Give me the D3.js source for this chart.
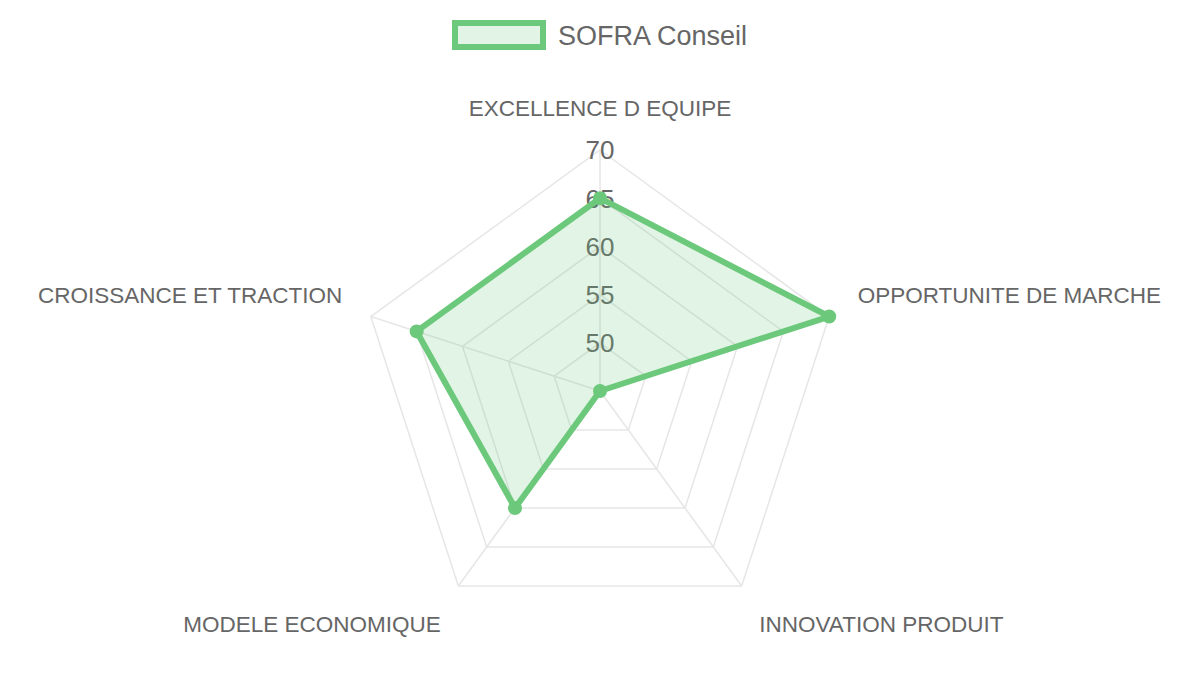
<!DOCTYPE html>
<html>
<head>
<meta charset="utf-8">
<script src="https://cdn.jsdelivr.net/npm/d3@7"></script>
<style>
  body { margin: 0; background: #fff; }
  svg { display: block; font-family: "Liberation Sans", Arial, sans-serif; }
</style>
</head>
<body>
<div class="canvas"></div>
<script>
const labels = ['EXCELLENCE D EQUIPE', 'OPPORTUNITE DE MARCHE', 'INNOVATION PRODUIT', 'MODELE ECONOMIQUE', 'CROISSANCE ET TRACTION'];
const seriesName = 'SOFRA Conseil';
const values = [65, 70, 45, 60, 65];
const tickValues = [50, 55, 60, 65, 70];
const scaleMin = 45;
const scaleMax = 70;

const dimensions = { width: 1200, height: 675, radius: 241 };
const center = { x: 600, y: 391 };
const green = '#6cc97b';

const svg = d3
  .select('.canvas')
  .append('svg')
  .attr('width', dimensions.width)
  .attr('height', dimensions.height);

const graph = svg
  .append('g')
  .attr('transform', `translate(${center.x}, ${center.y})`);

const r = d3.scaleLinear().domain([scaleMin, scaleMax]).range([0, dimensions.radius]);
const angle = (i) => (i * 2 * Math.PI) / labels.length;
// point on axis i at radius rad (angle measured from top, clockwise)
const pt = (i, rad) => [rad * Math.sin(angle(i)), -rad * Math.cos(angle(i))];

// grid rings
graph
  .selectAll('.ring')
  .data(tickValues)
  .enter()
  .append('polygon')
  .attr('class', 'ring')
  .attr('points', (t) => labels.map((l, i) => pt(i, r(t)).join(',')).join(' '))
  .attr('fill', 'none')
  .attr('stroke', '#e6e6e6')
  .attr('stroke-width', 1.5);

// angle lines
graph
  .selectAll('.spoke')
  .data(labels)
  .enter()
  .append('line')
  .attr('class', 'spoke')
  .attr('x1', 0)
  .attr('y1', 0)
  .attr('x2', (d, i) => pt(i, r(scaleMax))[0])
  .attr('y2', (d, i) => pt(i, r(scaleMax))[1])
  .attr('stroke', '#e6e6e6')
  .attr('stroke-width', 1.5);

// tick labels (drawn before the dataset, so the fill tints them)
graph
  .selectAll('.tick')
  .data(tickValues)
  .enter()
  .append('text')
  .attr('class', 'tick')
  .attr('x', 0)
  .attr('y', (t) => -r(t))
  .attr('dy', '0.36em')
  .attr('text-anchor', 'middle')
  .attr('font-size', 26)
  .attr('fill', '#666')
  .text((t) => t);

// point labels
const labelR = dimensions.radius + 30;
graph
  .selectAll('.plabel')
  .data(labels)
  .enter()
  .append('text')
  .attr('class', 'plabel')
  .attr('x', (d, i) => pt(i, labelR)[0])
  .attr('y', (d, i) => pt(i, labelR)[1])
  .attr('text-anchor', (d, i) => {
    const x = pt(i, labelR)[0];
    return Math.abs(x) < 1 ? 'middle' : x > 0 ? 'start' : 'end';
  })
  .attr('dy', (d, i) => (pt(i, labelR)[1] > 0 ? '0.95em' : '-0.2em'))
  .attr('font-size', 22.5)
  .attr('fill', '#666')
  .text((d) => d);

// dataset
const line = d3
  .lineRadial()
  .angle((d, i) => angle(i))
  .radius((d) => r(d))
  .curve(d3.curveLinearClosed);

graph
  .append('path')
  .datum(values)
  .attr('d', line)
  .attr('fill', green)
  .attr('fill-opacity', 0.2)
  .attr('stroke', green)
  .attr('stroke-width', 6)
  .attr('stroke-linejoin', 'round');

graph
  .selectAll('.dot')
  .data(values)
  .enter()
  .append('circle')
  .attr('class', 'dot')
  .attr('cx', (d, i) => pt(i, r(d))[0])
  .attr('cy', (d, i) => pt(i, r(d))[1])
  .attr('r', 7)
  .attr('fill', green);

// legend
const legend = svg.append('g').attr('transform', 'translate(455, 23)');
legend
  .append('rect')
  .attr('width', 88)
  .attr('height', 24)
  .attr('fill', green)
  .attr('fill-opacity', 0.2)
  .attr('stroke', green)
  .attr('stroke-width', 6);
legend
  .append('text')
  .attr('x', 103)
  .attr('y', 12)
  .attr('dy', '0.36em')
  .attr('font-size', 27)
  .attr('fill', '#666')
  .text(seriesName);
</script>
</body>
</html>
